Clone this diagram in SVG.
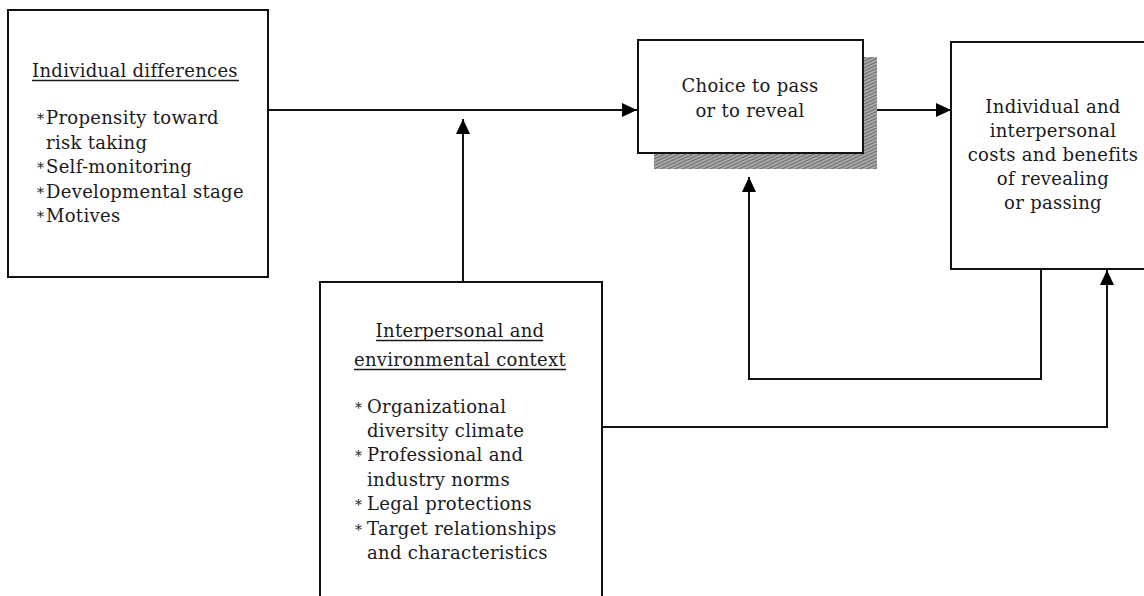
<svg xmlns="http://www.w3.org/2000/svg" width="1144" height="596" viewBox="0 0 1144 596">
<style>
  .box { fill: #fff; stroke: #111; stroke-width: 2; }
  .t { font-family: "DejaVu Serif", "Liberation Serif", serif; font-size: 18px; letter-spacing: 0.3px; fill: #1a1a1a; }
  .c { text-anchor: middle; }
  .ast { font-family: "DejaVu Serif", "Liberation Serif", serif; font-size: 14px; fill: #1a1a1a; }
  .ul { stroke: #1a1a1a; stroke-width: 1.3; }
  .conn { fill: none; stroke: #111; stroke-width: 2; }
</style>
<defs>
  <marker id="arr" markerUnits="userSpaceOnUse" markerWidth="16" markerHeight="16" refX="15" refY="7" orient="auto">
    <path d="M0,0 L15,7 L0,14 z" fill="#000"/>
  </marker>
  <pattern id="hatch" patternUnits="userSpaceOnUse" width="3" height="3" patternTransform="rotate(65)">
    <rect width="3" height="3" fill="#a8a8a8"/>
    <line x1="0" y1="0" x2="0" y2="3" stroke="#4a4a4a" stroke-width="1.3"/>
  </pattern>
</defs>
<rect width="1144" height="596" fill="#fff"/>

<g id="connectors">
  <path class="conn" d="M268 110 H637" marker-end="url(#arr)"/>
  <path class="conn" d="M463 282 V119" marker-end="url(#arr)"/>
  <path class="conn" d="M863 110 H951" marker-end="url(#arr)"/>
  <path class="conn" d="M1041 269 V379 H749 V177" marker-end="url(#arr)"/>
  <path class="conn" d="M602 427 H1107 V270" marker-end="url(#arr)"/>
</g>

<g id="individual-differences">
  <rect class="box" x="8" y="10" width="260" height="267"/>
  <text class="t" x="32" y="77">Individual differences</text>
  <line class="ul" x1="32" y1="80.5" x2="239" y2="80.5"/>
  <text class="ast" x="37" y="124">*</text>
  <text class="t" x="46" y="124">Propensity toward</text>
  <text class="t" x="46" y="149">risk taking</text>
  <text class="ast" x="37" y="173">*</text>
  <text class="t" x="46" y="173">Self-monitoring</text>
  <text class="ast" x="37" y="198">*</text>
  <text class="t" x="46" y="198">Developmental stage</text>
  <text class="ast" x="37" y="222">*</text>
  <text class="t" x="46" y="222">Motives</text>
</g>

<g id="choice">
  <rect x="654" y="57" width="223" height="112" fill="url(#hatch)"/>
  <rect class="box" x="638" y="40" width="225" height="113"/>
  <text class="t c" x="750" y="92">Choice to pass</text>
  <text class="t c" x="750" y="117">or to reveal</text>
</g>

<g id="costs-benefits">
  <rect class="box" x="951" y="42" width="200" height="227"/>
  <text class="t c" x="1053" y="113">Individual and</text>
  <text class="t c" x="1053" y="137">interpersonal</text>
  <text class="t c" x="1053" y="161">costs and benefits</text>
  <text class="t c" x="1053" y="185">of revealing</text>
  <text class="t c" x="1053" y="209">or passing</text>
</g>

<g id="context">
  <rect class="box" x="320" y="282" width="282" height="330"/>
  <text class="t c" x="460" y="337">Interpersonal and</text>
  <line class="ul" x1="376" y1="340.5" x2="543" y2="340.5"/>
  <text class="t c" x="460" y="366">environmental context</text>
  <line class="ul" x1="354" y1="369.5" x2="566" y2="369.5"/>
  <text class="ast" x="355" y="413">*</text>
  <text class="t" x="367" y="413">Organizational</text>
  <text class="t" x="367" y="437">diversity climate</text>
  <text class="ast" x="355" y="461">*</text>
  <text class="t" x="367" y="461">Professional and</text>
  <text class="t" x="367" y="486">industry norms</text>
  <text class="ast" x="355" y="510">*</text>
  <text class="t" x="367" y="510">Legal protections</text>
  <text class="ast" x="355" y="535">*</text>
  <text class="t" x="367" y="535">Target relationships</text>
  <text class="t" x="367" y="559">and characteristics</text>
</g>
</svg>
